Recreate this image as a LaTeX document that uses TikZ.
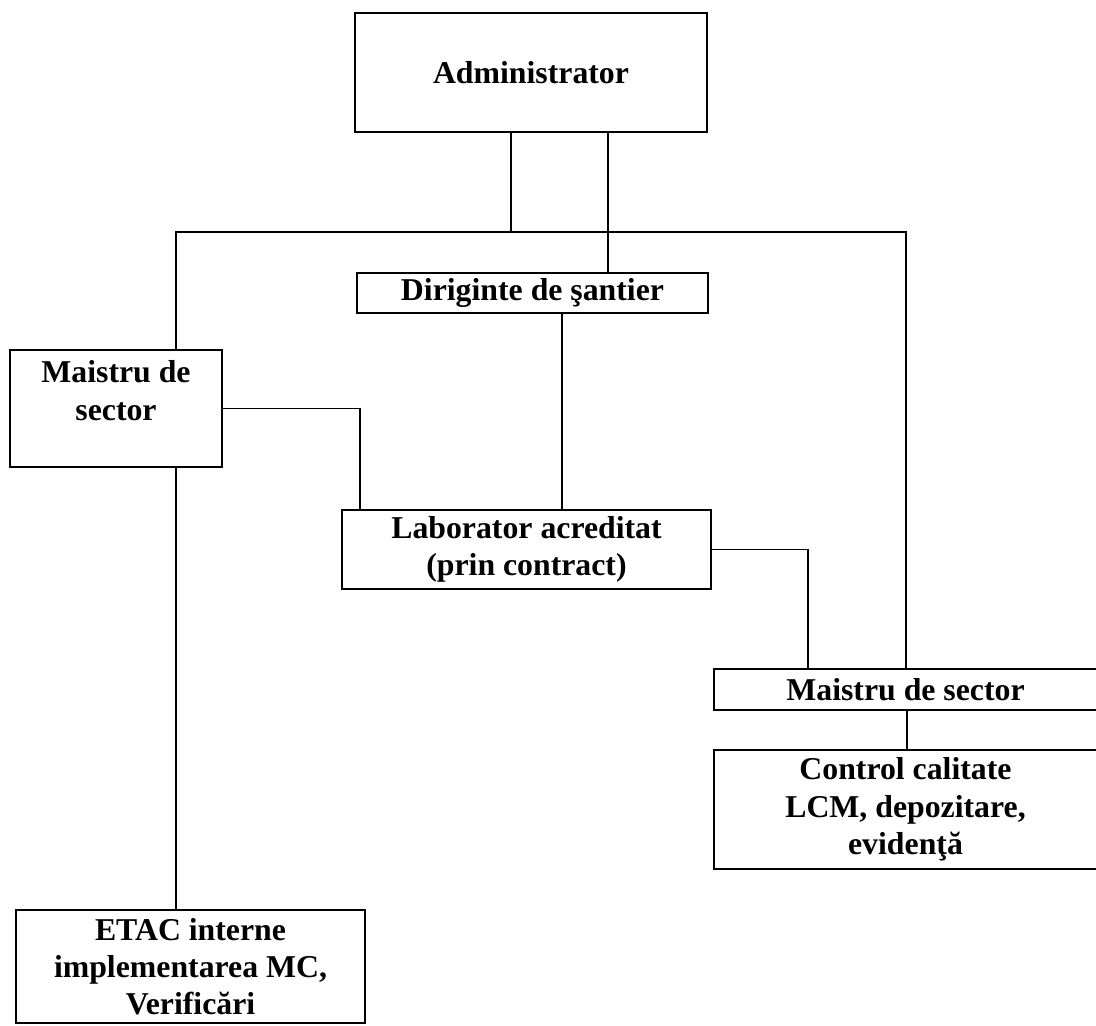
\documentclass[tikz,border=0pt]{standalone}
\usepackage{fontspec}
\setmainfont{Liberation Serif}

\tikzset{
  unit/.style={draw,line width=1.1pt,align=center,inner sep=0pt,
    font=\fontsize{22.6}{26.5}\selectfont\bfseries},
  link/.style={line width=1.1pt},
}

\begin{document}
\begin{tikzpicture}[x=0.025cm,y=-0.025cm]
  \useasboundingbox (0,0) rectangle (1096,1025);
  % boxes
  \node[unit,minimum width=8.8cm,minimum height=2.975cm] (admin) at (531,72.5) {Administrator};
  \node[unit,minimum width=8.775cm,minimum height=1cm] (dirig) at (532.5,293) {Diriginte de şantier};
  \node[unit,minimum width=5.3cm,minimum height=2.925cm,text depth=0.9cm] (maistruL) at (116,408.5) {Maistru de\\sector};
  \node[unit,minimum width=9.225cm,minimum height=1.975cm] (lab) at (526.5,549.5) {Laborator acreditat\\(prin contract)};
  \node[unit,minimum width=9.575cm,minimum height=1.025cm] (maistruR) at (905.5,689.5) {Maistru de sector};
  \node[unit,minimum width=9.575cm,minimum height=2.975cm] (control) at (905.5,809.5) {Control calitate\\LCM, depozitare,\\evidenţă};
  \node[unit,minimum width=8.725cm,minimum height=2.825cm] (etac) at (190.5,966.5) {ETAC interne\\implementarea MC,\\Verificări};
  % connectors
  \coordinate (busL) at (176,232);
  \coordinate (busR) at (906,232);
  \coordinate (busA) at (511,232);
  \coordinate (xDir) at (608,0);
  \coordinate (xLab) at (562,0);
  \coordinate (xLabL) at (360,0);
  \coordinate (xLabR) at (808,0);
  \coordinate (xCtl) at (907,0);
  \draw[link] (admin.south -| busA) -- (busA);
  \draw[link] (maistruL.north -| busL) -- (busL) -- (busR) -- (maistruR.north -| busR);
  \draw[link] (admin.south -| xDir) -- (dirig.north -| xDir);
  \draw[link] (dirig.south -| xLab) -- (lab.north -| xLab);
  \draw[link] (maistruL.east) -| (lab.north -| xLabL);
  \draw[link] (lab.east) -| (maistruR.north -| xLabR);
  \draw[link] (maistruR.south -| xCtl) -- (control.north -| xCtl);
  \draw[link] (maistruL.south -| busL) -- (etac.north -| busL);
\end{tikzpicture}
\end{document}
